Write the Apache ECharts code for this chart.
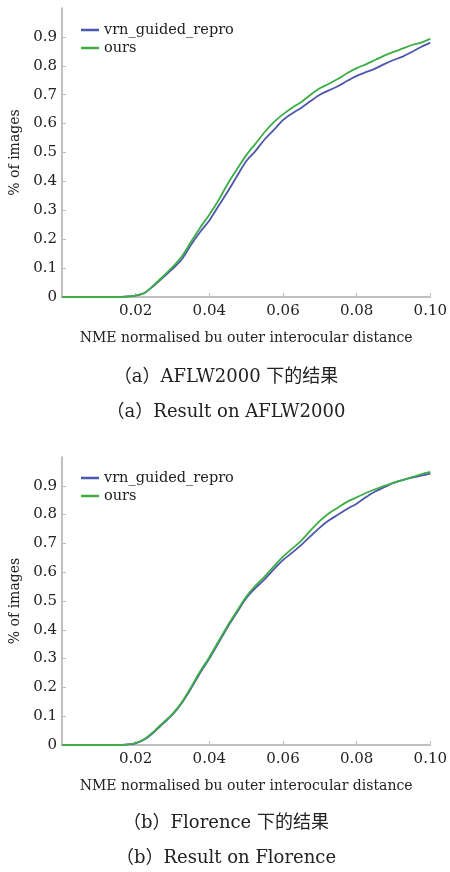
<!DOCTYPE html>
<html>
<head>
<meta charset="utf-8">
<script src="https://cdn.jsdelivr.net/npm/echarts@6/dist/echarts.min.js"></script>
<style>
    html, body { margin: 0; padding: 0; background: #fff; }
    #chart { width: 450px; height: 872px; }
</style>
</head>
<body>
<div id="chart"></div>
<script>
// NME thresholds (x) shared by both plots
const xA = [0, 0.005, 0.01, 0.015, 0.018, 0.02, 0.0225, 0.025, 0.0275, 0.03, 0.0325, 0.035, 0.0375, 0.04,
    0.0425, 0.045, 0.0475, 0.05, 0.0525, 0.055, 0.0575, 0.06, 0.0625, 0.065, 0.0675, 0.07, 0.0725, 0.075,
    0.0775, 0.08, 0.0825, 0.085, 0.0875, 0.09, 0.0925, 0.095, 0.0975, 0.1];

// (a) AFLW2000
const aflwVrn = [0, 0, 0, 0, 0.002, 0.005, 0.015, 0.04, 0.068, 0.097, 0.13, 0.18, 0.225, 0.265,
    0.315, 0.365, 0.418, 0.47, 0.505, 0.545, 0.578, 0.612, 0.635, 0.655, 0.678, 0.7, 0.715, 0.73,
    0.748, 0.765, 0.778, 0.79, 0.806, 0.82, 0.832, 0.848, 0.865, 0.88];
const aflwOurs = [0, 0, 0, 0, 0.002, 0.005, 0.015, 0.042, 0.072, 0.103, 0.14, 0.19, 0.24, 0.285,
    0.335, 0.392, 0.442, 0.49, 0.53, 0.57, 0.605, 0.632, 0.655, 0.675, 0.7, 0.722, 0.738, 0.755,
    0.775, 0.792, 0.805, 0.82, 0.835, 0.848, 0.86, 0.872, 0.88, 0.893];

// (b) Florence
const florVrn = [0, 0, 0, 0, 0.002, 0.006, 0.02, 0.045, 0.075, 0.105, 0.145, 0.195, 0.25, 0.3,
    0.355, 0.41, 0.46, 0.51, 0.545, 0.575, 0.61, 0.642, 0.668, 0.695, 0.725, 0.755, 0.78, 0.8,
    0.82, 0.838, 0.86, 0.88, 0.895, 0.91, 0.92, 0.928, 0.935, 0.942];
const florOurs = [0, 0, 0, 0, 0.002, 0.007, 0.022, 0.048, 0.078, 0.108, 0.148, 0.2, 0.255, 0.305,
    0.36, 0.415, 0.465, 0.515, 0.553, 0.585, 0.62, 0.654, 0.682, 0.71, 0.745, 0.778, 0.805, 0.825,
    0.845, 0.86, 0.875, 0.888, 0.9, 0.91, 0.92, 0.93, 0.94, 0.948];

const seriesNames = ['vrn_guided_repro', 'ours'];
const xTicks = [0, 0.1, 0.02];   // min, max, interval
const yTicks = [0, 1, 0.1];
const xName = 'NME normalised bu outer interocular distance';
const yName = '% of images';
const captions = [
    '（a）AFLW2000 下的结果', '（a）Result on AFLW2000',
    '（b）Florence 下的结果', '（b）Result on Florence'
];

const FONT = 'DejaVu Serif';
const BLUE = '#4f56ad';
const GREEN = '#3cae45';

const toPairs = (xs, ys) => xs.map((x, i) => [x, ys[i]]);

function makeX(idx) {
    return {
        type: 'value',
        gridIndex: idx,
        min: xTicks[0],
        max: xTicks[1],
        interval: xTicks[2],
        name: xName,
        nameLocation: 'middle',
        nameGap: 34,
        nameTextStyle: { fontFamily: FONT, fontSize: 14, color: '#222' },
        axisLine: { lineStyle: { color: '#aaa', width: 1.5 } },
        axisTick: { inside: true, length: 4, lineStyle: { color: '#bbb' } },
        axisLabel: {
            showMinLabel: false,
            margin: 7,
            fontFamily: FONT,
            fontSize: 15,
            color: '#222',
            formatter: v => v.toFixed(2)
        },
        splitLine: { show: false }
    };
}

function makeY(idx) {
    return {
        type: 'value',
        gridIndex: idx,
        min: yTicks[0],
        max: yTicks[1],
        interval: yTicks[2],
        name: yName,
        nameLocation: 'middle',
        nameRotate: 90,
        nameGap: 39,
        nameTextStyle: { fontFamily: FONT, fontSize: 14, color: '#222' },
        axisLine: { show: true, lineStyle: { color: '#aaa', width: 1.5 } },
        axisTick: { show: true, inside: true, length: 4, lineStyle: { color: '#bbb' } },
        axisLabel: {
            showMaxLabel: false,
            margin: 5,
            fontFamily: FONT,
            fontSize: 15,
            color: '#222',
            formatter: v => (v === 0 ? '0' : v.toFixed(1))
        },
        splitLine: { show: false }
    };
}

function makeLine(name, color, idx, ys) {
    return {
        name: name,
        type: 'line',
        xAxisIndex: idx,
        yAxisIndex: idx,
        data: toPairs(xA, ys),
        smooth: 0.3,
        showSymbol: false,
        lineStyle: { color: color, width: 1.8 },
        itemStyle: { color: color }
    };
}

function makeLegend(top) {
    return {
        data: seriesNames,
        orient: 'vertical',
        left: 76,
        top: top,
        icon: 'rect',
        itemWidth: 18,
        itemHeight: 2.5,
        itemGap: 0,
        textStyle: { fontFamily: FONT, fontSize: 14.5, color: '#222', lineHeight: 18 }
    };
}

const captionY = [377, 412, 823, 858];

const chart = echarts.init(document.getElementById('chart'));
const option = {
    animation: false,
    backgroundColor: '#fff',
    legend: [makeLegend(16), makeLegend(464)],
    grid: [
        { left: 62, right: 17, top: 8, height: 289 },
        { left: 62, right: 17, top: 457, height: 288 }
    ],
    xAxis: [makeX(0), makeX(1)],
    yAxis: [makeY(0), makeY(1)],
    series: [
        makeLine(seriesNames[0], BLUE, 0, aflwVrn),
        makeLine(seriesNames[1], GREEN, 0, aflwOurs),
        makeLine(seriesNames[0], BLUE, 1, florVrn),
        makeLine(seriesNames[1], GREEN, 1, florOurs)
    ],
    graphic: captions.map((t, i) => ({
        type: 'text',
        x: 226,
        y: captionY[i],
        style: {
            text: t,
            fontFamily: FONT + ', Noto Sans CJK SC',
            fontSize: 18,
            fill: '#222',
            textAlign: 'center',
            textVerticalAlign: 'middle'
        }
    }))
};
chart.setOption(option);
</script>
</body>
</html>
